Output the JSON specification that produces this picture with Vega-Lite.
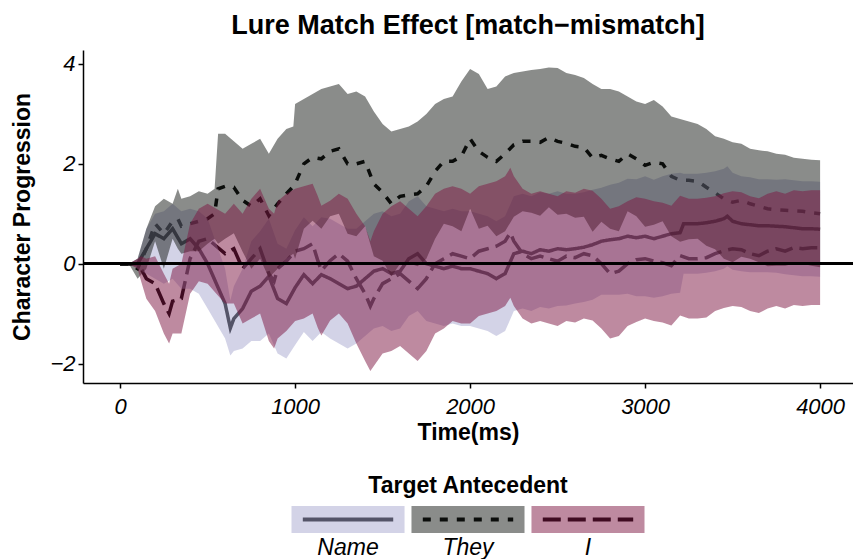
{
  "$schema": "https://vega.github.io/schema/vega-lite/v6.json",
  "background": "white",
  "padding": {"left": 11, "top": 12, "right": 0, "bottom": 5},
  "config": {
    "font": "Liberation Sans",
    "view": {"stroke": null},
    "axis": {
      "grid": false,
      "domainColor": "black",
      "domainWidth": 1.5,
      "tickColor": "black",
      "tickWidth": 1.5,
      "tickSize": 5,
      "labelColor": "black",
      "labelFontSize": 22,
      "labelFontStyle": "italic",
      "titleColor": "black",
      "titleFontSize": 23,
      "titleFontWeight": "bold"
    }
  },
  "bounds": "flush",
  "center": true,
  "spacing": 123,
  "vconcat": [
    {
      "width": 770,
      "height": 333,
      "title": {"text": "Lure Match Effect [match−mismatch]", "fontSize": 27, "fontWeight": "bold", "anchor": "middle", "offset": 10, "color": "black"},
      "data": {"name": "d"},
      "layer": [
        {
          "mark": {"type": "line", "color": "black", "strokeWidth": 3.5, "strokeCap": "butt"},
          "encoding": {
            "x": {"field": "time", "type": "quantitative", "scale": {"domain": [-212, 4188], "nice": false, "zero": false},
                  "axis": {"title": "Time(ms)", "values": [0, 1000, 2000, 3000, 4000], "format": "d", "labelPadding": 8, "titlePadding": 4, "labelFlush": false}},
            "y": {"field": "mean", "type": "quantitative", "scale": {"domain": [-2.39, 4.28], "nice": false, "zero": false},
                  "axis": {"title": "Character Progression", "values": [-2, 0, 2, 4], "format": "d", "labelPadding": 3, "titlePadding": 15, "labelFlush": false}},
            "strokeDash": {"field": "series", "type": "nominal", "scale": {"domain": ["Name", "They", "I"], "range": [[1, 0], [8, 9], [18, 7]]}, "legend": null},
            "detail": {"field": "series", "type": "nominal"}
          }
        },
        {
          "transform": [{"filter": "datum.series === 'Name'"}],
          "mark": {"type": "area", "opacity": 0.5},
          "encoding": {
            "x": {"field": "time", "type": "quantitative"},
            "y": {"field": "lower", "type": "quantitative"},
            "y2": {"field": "upper"},
            "fill": {"field": "series", "type": "nominal", "scale": {"domain": ["Name", "They", "I"], "range": ["#a8a8d0", "#161a15", "#7d1541"]}, "legend": null}
          }
        },
        {
          "transform": [{"filter": "datum.series === 'They'"}],
          "mark": {"type": "area", "opacity": 0.5},
          "encoding": {
            "x": {"field": "time", "type": "quantitative"},
            "y": {"field": "lower", "type": "quantitative"},
            "y2": {"field": "upper"},
            "fill": {"field": "series", "type": "nominal", "legend": null}
          }
        },
        {
          "transform": [{"filter": "datum.series === 'I'"}],
          "mark": {"type": "area", "opacity": 0.5},
          "encoding": {
            "x": {"field": "time", "type": "quantitative"},
            "y": {"field": "lower", "type": "quantitative"},
            "y2": {"field": "upper"},
            "fill": {"field": "series", "type": "nominal", "legend": null}
          }
        },
        {
          "mark": {"type": "rule", "color": "black", "strokeWidth": 2},
          "encoding": {"y": {"datum": 0}}
        }
      ]
    },
    {
      "width": 353,
      "height": 27,
      "title": {"text": "Target Antecedent", "fontSize": 23, "fontWeight": "bold", "anchor": "middle", "offset": 8, "color": "black"},
      "data": {"values": [{"series": "Name"}, {"series": "They"}, {"series": "I"}]},
      "layer": [
        {
          "mark": {"type": "rule", "color": "black", "strokeWidth": 4, "strokeCap": "butt"},
          "encoding": {
            "x": {"field": "series", "type": "nominal", "bandPosition": 0.1,
                  "scale": {"type": "band", "domain": ["Name", "They", "I"], "paddingInner": 0.058, "paddingOuter": 0},
                  "axis": {"title": null, "domain": false, "ticks": false, "labelPadding": 3, "labelFontSize": 23, "labelAngle": 0}},
            "x2": {"field": "series", "bandPosition": 0.9},
            "y": {"datum": 0.5, "type": "quantitative", "scale": {"domain": [0, 1]}, "axis": null},
            "strokeDash": {"field": "series", "type": "nominal", "scale": {"domain": ["Name", "They", "I"], "range": [[1, 0], [8, 9], [18, 7]]}, "legend": null}
          }
        },
        {
          "mark": {"type": "rect", "opacity": 0.5},
          "encoding": {
            "x": {"field": "series", "type": "nominal"},
            "y": {"datum": 0},
            "y2": {"datum": 1},
            "fill": {"field": "series", "type": "nominal", "scale": {"domain": ["Name", "They", "I"], "range": ["#a8a8d0", "#161a15", "#7d1541"]}, "legend": null}
          }
        }
      ]
    }
  ],
  "datasets": {
    "d": [
      {"series":"They","time":0,"mean":0,"lower":0,"upper":0},
      {"series":"They","time":50,"mean":0,"lower":0,"upper":0},
      {"series":"They","time":100,"mean":-0.1,"lower":-0.3,"upper":0.1},
      {"series":"They","time":150,"mean":0.3,"lower":-0.1,"upper":0.7},
      {"series":"They","time":200,"mean":0.8,"lower":0.45,"upper":1.15},
      {"series":"They","time":250,"mean":0.6,"lower":-0.1,"upper":1.3},
      {"series":"They","time":300,"mean":0.85,"lower":0.5,"upper":1.2},
      {"series":"They","time":330,"mean":0.9,"lower":0.3,"upper":1.5},
      {"series":"They","time":350,"mean":0.75,"lower":0.2,"upper":1.3},
      {"series":"They","time":400,"mean":0.8,"lower":0.25,"upper":1.35},
      {"series":"They","time":450,"mean":0.85,"lower":0.25,"upper":1.45},
      {"series":"They","time":500,"mean":0.9,"lower":0.4,"upper":1.4},
      {"series":"They","time":540,"mean":1.0,"lower":0.5,"upper":1.5},
      {"series":"They","time":560,"mean":1.5,"lower":0.4,"upper":2.6},
      {"series":"They","time":600,"mean":1.55,"lower":0.5,"upper":2.6},
      {"series":"They","time":650,"mean":1.53,"lower":0.61,"upper":2.45},
      {"series":"They","time":700,"mean":1.27,"lower":0.24,"upper":2.3},
      {"series":"They","time":750,"mean":1.15,"lower":-0.1,"upper":2.4},
      {"series":"They","time":800,"mean":1.3,"lower":0.1,"upper":2.5},
      {"series":"They","time":850,"mean":0.96,"lower":-0.28,"upper":2.2},
      {"series":"They","time":900,"mean":1.2,"lower":-0.1,"upper":2.5},
      {"series":"They","time":950,"mean":1.4,"lower":0.1,"upper":2.7},
      {"series":"They","time":990,"mean":1.55,"lower":0.2,"upper":2.75},
      {"series":"They","time":1000,"mean":1.6,"lower":0.1,"upper":3.2},
      {"series":"They","time":1050,"mean":2.0,"lower":0.7,"upper":3.3},
      {"series":"They","time":1100,"mean":2.13,"lower":0.86,"upper":3.4},
      {"series":"They","time":1150,"mean":2.1,"lower":0.7,"upper":3.5},
      {"series":"They","time":1200,"mean":2.25,"lower":0.95,"upper":3.55},
      {"series":"They","time":1250,"mean":2.3,"lower":1.0,"upper":3.6},
      {"series":"They","time":1300,"mean":2.0,"lower":0.6,"upper":3.4},
      {"series":"They","time":1350,"mean":2.0,"lower":0.55,"upper":3.45},
      {"series":"They","time":1400,"mean":2.05,"lower":0.75,"upper":3.35},
      {"series":"They","time":1450,"mean":1.6,"lower":0.15,"upper":3.05},
      {"series":"They","time":1500,"mean":1.43,"lower":0.06,"upper":2.8},
      {"series":"They","time":1550,"mean":1.2,"lower":-0.25,"upper":2.65},
      {"series":"They","time":1600,"mean":1.35,"lower":0.0,"upper":2.7},
      {"series":"They","time":1650,"mean":1.38,"lower":0.01,"upper":2.75},
      {"series":"They","time":1700,"mean":1.4,"lower":-0.05,"upper":2.85},
      {"series":"They","time":1750,"mean":1.55,"lower":0.1,"upper":3.0},
      {"series":"They","time":1800,"mean":1.85,"lower":0.5,"upper":3.2},
      {"series":"They","time":1850,"mean":2.05,"lower":0.8,"upper":3.3},
      {"series":"They","time":1900,"mean":2.05,"lower":0.75,"upper":3.35},
      {"series":"They","time":1950,"mean":2.15,"lower":0.65,"upper":3.65},
      {"series":"They","time":2000,"mean":2.5,"lower":1.1,"upper":3.9},
      {"series":"They","time":2050,"mean":2.25,"lower":0.7,"upper":3.8},
      {"series":"They","time":2100,"mean":2.13,"lower":0.76,"upper":3.5},
      {"series":"They","time":2150,"mean":2.05,"lower":0.55,"upper":3.55},
      {"series":"They","time":2200,"mean":2.2,"lower":0.65,"upper":3.75},
      {"series":"They","time":2250,"mean":2.38,"lower":0.94,"upper":3.82},
      {"series":"They","time":2300,"mean":2.45,"lower":1.05,"upper":3.85},
      {"series":"They","time":2350,"mean":2.45,"lower":1.02,"upper":3.88},
      {"series":"They","time":2400,"mean":2.43,"lower":0.96,"upper":3.9},
      {"series":"They","time":2450,"mean":2.53,"lower":1.13,"upper":3.93},
      {"series":"They","time":2500,"mean":2.45,"lower":0.98,"upper":3.92},
      {"series":"They","time":2550,"mean":2.41,"lower":1.0,"upper":3.82},
      {"series":"They","time":2600,"mean":2.35,"lower":0.92,"upper":3.78},
      {"series":"They","time":2650,"mean":2.33,"lower":0.94,"upper":3.72},
      {"series":"They","time":2700,"mean":2.12,"lower":0.64,"upper":3.6},
      {"series":"They","time":2750,"mean":2.17,"lower":0.84,"upper":3.5},
      {"series":"They","time":2800,"mean":2.1,"lower":0.7,"upper":3.5},
      {"series":"They","time":2850,"mean":2.05,"lower":0.65,"upper":3.45},
      {"series":"They","time":2900,"mean":2.2,"lower":1.05,"upper":3.35},
      {"series":"They","time":2950,"mean":2.1,"lower":0.95,"upper":3.25},
      {"series":"They","time":3000,"mean":1.97,"lower":0.74,"upper":3.2},
      {"series":"They","time":3050,"mean":2.03,"lower":0.78,"upper":3.28},
      {"series":"They","time":3100,"mean":2.0,"lower":0.85,"upper":3.15},
      {"series":"They","time":3150,"mean":1.75,"lower":0.55,"upper":2.95},
      {"series":"They","time":3200,"mean":1.67,"lower":0.44,"upper":2.9},
      {"series":"They","time":3250,"mean":1.67,"lower":0.49,"upper":2.85},
      {"series":"They","time":3300,"mean":1.65,"lower":0.5,"upper":2.8},
      {"series":"They","time":3350,"mean":1.53,"lower":0.36,"upper":2.7},
      {"series":"They","time":3400,"mean":1.42,"lower":0.29,"upper":2.55},
      {"series":"They","time":3450,"mean":1.3,"lower":0.1,"upper":2.5},
      {"series":"They","time":3500,"mean":1.23,"lower":0.03,"upper":2.43},
      {"series":"They","time":3550,"mean":1.27,"lower":0.14,"upper":2.4},
      {"series":"They","time":3600,"mean":1.2,"lower":0.1,"upper":2.3},
      {"series":"They","time":3650,"mean":1.15,"lower":0.03,"upper":2.27},
      {"series":"They","time":3700,"mean":1.1,"lower":-0.05,"upper":2.25},
      {"series":"They","time":3750,"mean":1.08,"lower":-0.04,"upper":2.2},
      {"series":"They","time":3800,"mean":1.07,"lower":-0.04,"upper":2.18},
      {"series":"They","time":3850,"mean":1.06,"lower":0.0,"upper":2.12},
      {"series":"They","time":3900,"mean":1.05,"lower":0.0,"upper":2.1},
      {"series":"They","time":3950,"mean":1.02,"lower":-0.04,"upper":2.08},
      {"series":"They","time":4000,"mean":1.0,"lower":-0.07,"upper":2.07},

      {"series":"Name","time":0,"mean":0,"lower":0,"upper":0},
      {"series":"Name","time":50,"mean":0,"lower":0,"upper":0},
      {"series":"Name","time":100,"mean":0,"lower":-0.1,"upper":0.1},
      {"series":"Name","time":150,"mean":0.3,"lower":-0.2,"upper":0.7},
      {"series":"Name","time":200,"mean":0.6,"lower":-0.3,"upper":1.0},
      {"series":"Name","time":250,"mean":0.5,"lower":-0.4,"upper":1.05},
      {"series":"Name","time":300,"mean":0.7,"lower":-0.3,"upper":1.2},
      {"series":"Name","time":350,"mean":0.4,"lower":-0.5,"upper":1.05},
      {"series":"Name","time":400,"mean":0.5,"lower":-0.5,"upper":1.1},
      {"series":"Name","time":450,"mean":0.3,"lower":-0.6,"upper":1.05},
      {"series":"Name","time":500,"mean":0.0,"lower":-0.9,"upper":0.9},
      {"series":"Name","time":550,"mean":-0.4,"lower":-1.2,"upper":0.4},
      {"series":"Name","time":600,"mean":-0.8,"lower":-1.5,"upper":-0.1},
      {"series":"Name","time":630,"mean":-1.29,"lower":-1.84,"upper":-0.74},
      {"series":"Name","time":650,"mean":-1.1,"lower":-1.75,"upper":-0.45},
      {"series":"Name","time":700,"mean":-0.9,"lower":-1.7,"upper":-0.1},
      {"series":"Name","time":750,"mean":-0.55,"lower":-1.55,"upper":0.45},
      {"series":"Name","time":800,"mean":-0.45,"lower":-1.55,"upper":0.65},
      {"series":"Name","time":850,"mean":-0.25,"lower":-1.4,"upper":0.9},
      {"series":"Name","time":900,"mean":-0.7,"lower":-1.8,"upper":0.4},
      {"series":"Name","time":950,"mean":-0.8,"lower":-1.9,"upper":0.3},
      {"series":"Name","time":1000,"mean":-0.48,"lower":-1.63,"upper":0.67},
      {"series":"Name","time":1050,"mean":-0.22,"lower":-1.37,"upper":0.93},
      {"series":"Name","time":1100,"mean":-0.4,"lower":-1.55,"upper":0.75},
      {"series":"Name","time":1150,"mean":-0.22,"lower":-1.37,"upper":0.93},
      {"series":"Name","time":1200,"mean":-0.3,"lower":-1.5,"upper":0.9},
      {"series":"Name","time":1250,"mean":-0.4,"lower":-1.6,"upper":0.8},
      {"series":"Name","time":1300,"mean":-0.5,"lower":-1.7,"upper":0.7},
      {"series":"Name","time":1350,"mean":-0.45,"lower":-1.6,"upper":0.7},
      {"series":"Name","time":1400,"mean":-0.3,"lower":-1.45,"upper":0.85},
      {"series":"Name","time":1450,"mean":-0.15,"lower":-1.3,"upper":1.0},
      {"series":"Name","time":1500,"mean":-0.1,"lower":-1.25,"upper":1.05},
      {"series":"Name","time":1550,"mean":-0.2,"lower":-1.35,"upper":0.95},
      {"series":"Name","time":1600,"mean":-0.15,"lower":-1.3,"upper":1.0},
      {"series":"Name","time":1650,"mean":0.1,"lower":-1.05,"upper":1.25},
      {"series":"Name","time":1700,"mean":0.2,"lower":-0.95,"upper":1.35},
      {"series":"Name","time":1750,"mean":0.0,"lower":-1.15,"upper":1.15},
      {"series":"Name","time":1800,"mean":-0.05,"lower":-1.2,"upper":1.1},
      {"series":"Name","time":1850,"mean":-0.1,"lower":-1.25,"upper":1.05},
      {"series":"Name","time":1900,"mean":-0.05,"lower":-1.2,"upper":1.1},
      {"series":"Name","time":1950,"mean":-0.1,"lower":-1.25,"upper":1.05},
      {"series":"Name","time":2000,"mean":-0.1,"lower":-1.25,"upper":1.05},
      {"series":"Name","time":2050,"mean":-0.15,"lower":-1.3,"upper":1.0},
      {"series":"Name","time":2100,"mean":-0.2,"lower":-1.35,"upper":0.95},
      {"series":"Name","time":2150,"mean":-0.3,"lower":-1.45,"upper":0.85},
      {"series":"Name","time":2200,"mean":-0.2,"lower":-1.35,"upper":0.95},
      {"series":"Name","time":2250,"mean":0.2,"lower":-0.95,"upper":1.35},
      {"series":"Name","time":2300,"mean":0.25,"lower":-0.9,"upper":1.4},
      {"series":"Name","time":2350,"mean":0.2,"lower":-0.95,"upper":1.35},
      {"series":"Name","time":2400,"mean":0.28,"lower":-0.87,"upper":1.43},
      {"series":"Name","time":2450,"mean":0.25,"lower":-0.9,"upper":1.4},
      {"series":"Name","time":2500,"mean":0.3,"lower":-0.85,"upper":1.45},
      {"series":"Name","time":2550,"mean":0.28,"lower":-0.84,"upper":1.4},
      {"series":"Name","time":2600,"mean":0.3,"lower":-0.8,"upper":1.4},
      {"series":"Name","time":2650,"mean":0.33,"lower":-0.77,"upper":1.43},
      {"series":"Name","time":2700,"mean":0.38,"lower":-0.72,"upper":1.48},
      {"series":"Name","time":2750,"mean":0.45,"lower":-0.62,"upper":1.52},
      {"series":"Name","time":2800,"mean":0.48,"lower":-0.62,"upper":1.58},
      {"series":"Name","time":2850,"mean":0.5,"lower":-0.62,"upper":1.62},
      {"series":"Name","time":2900,"mean":0.55,"lower":-0.6,"upper":1.7},
      {"series":"Name","time":2950,"mean":0.52,"lower":-0.65,"upper":1.69},
      {"series":"Name","time":3000,"mean":0.55,"lower":-0.65,"upper":1.75},
      {"series":"Name","time":3050,"mean":0.5,"lower":-0.68,"upper":1.68},
      {"series":"Name","time":3100,"mean":0.55,"lower":-0.65,"upper":1.75},
      {"series":"Name","time":3150,"mean":0.6,"lower":-0.6,"upper":1.8},
      {"series":"Name","time":3200,"mean":0.62,"lower":-0.58,"upper":1.82},
      {"series":"Name","time":3220,"mean":0.8,"lower":-0.2,"upper":1.8},
      {"series":"Name","time":3250,"mean":0.8,"lower":-0.2,"upper":1.8},
      {"series":"Name","time":3300,"mean":0.8,"lower":-0.2,"upper":1.8},
      {"series":"Name","time":3350,"mean":0.82,"lower":-0.18,"upper":1.82},
      {"series":"Name","time":3400,"mean":0.85,"lower":-0.15,"upper":1.85},
      {"series":"Name","time":3450,"mean":0.9,"lower":-0.1,"upper":1.9},
      {"series":"Name","time":3470,"mean":0.95,"lower":-0.05,"upper":1.95},
      {"series":"Name","time":3500,"mean":0.85,"lower":-0.12,"upper":1.82},
      {"series":"Name","time":3550,"mean":0.8,"lower":-0.15,"upper":1.75},
      {"series":"Name","time":3600,"mean":0.78,"lower":-0.17,"upper":1.73},
      {"series":"Name","time":3650,"mean":0.76,"lower":-0.17,"upper":1.69},
      {"series":"Name","time":3700,"mean":0.76,"lower":-0.17,"upper":1.69},
      {"series":"Name","time":3750,"mean":0.75,"lower":-0.18,"upper":1.68},
      {"series":"Name","time":3800,"mean":0.74,"lower":-0.21,"upper":1.69},
      {"series":"Name","time":3850,"mean":0.72,"lower":-0.23,"upper":1.67},
      {"series":"Name","time":3900,"mean":0.7,"lower":-0.25,"upper":1.65},
      {"series":"Name","time":3950,"mean":0.7,"lower":-0.25,"upper":1.65},
      {"series":"Name","time":4000,"mean":0.69,"lower":-0.26,"upper":1.64},

      {"series":"I","time":0,"mean":0,"lower":0,"upper":0},
      {"series":"I","time":50,"mean":0,"lower":0,"upper":0},
      {"series":"I","time":100,"mean":0,"lower":-0.1,"upper":0.1},
      {"series":"I","time":120,"mean":-0.1,"lower":-0.35,"upper":0.15},
      {"series":"I","time":150,"mean":-0.3,"lower":-0.7,"upper":0.1},
      {"series":"I","time":200,"mean":-0.4,"lower":-0.95,"upper":0.15},
      {"series":"I","time":250,"mean":-0.8,"lower":-1.4,"upper":-0.2},
      {"series":"I","time":280,"mean":-1.0,"lower":-1.6,"upper":-0.4},
      {"series":"I","time":300,"mean":-0.75,"lower":-1.4,"upper":-0.1},
      {"series":"I","time":350,"mean":-0.7,"lower":-1.4,"upper":0.0},
      {"series":"I","time":400,"mean":0.1,"lower":-0.6,"upper":0.8},
      {"series":"I","time":450,"mean":0.45,"lower":-0.35,"upper":1.1},
      {"series":"I","time":500,"mean":0.5,"lower":-0.4,"upper":1.2},
      {"series":"I","time":550,"mean":0.35,"lower":-0.6,"upper":1.1},
      {"series":"I","time":600,"mean":0.2,"lower":-0.8,"upper":1.0},
      {"series":"I","time":650,"mean":0.3,"lower":-0.8,"upper":1.2},
      {"series":"I","time":700,"mean":-0.1,"lower":-1.2,"upper":1.0},
      {"series":"I","time":750,"mean":0.1,"lower":-1.1,"upper":1.3},
      {"series":"I","time":800,"mean":0.3,"lower":-1.0,"upper":1.5},
      {"series":"I","time":850,"mean":-0.2,"lower":-1.55,"upper":1.1},
      {"series":"I","time":880,"mean":-0.35,"lower":-1.7,"upper":1.0},
      {"series":"I","time":900,"mean":-0.1,"lower":-1.5,"upper":1.25},
      {"series":"I","time":950,"mean":0.05,"lower":-1.35,"upper":1.4},
      {"series":"I","time":1000,"mean":0.25,"lower":-1.15,"upper":1.5},
      {"series":"I","time":1050,"mean":0.3,"lower":-1.1,"upper":1.55},
      {"series":"I","time":1100,"mean":0.4,"lower":-1.0,"upper":1.6},
      {"series":"I","time":1130,"mean":0.06,"lower":-1.29,"upper":1.35},
      {"series":"I","time":1150,"mean":-0.14,"lower":-1.44,"upper":1.16},
      {"series":"I","time":1200,"mean":0.06,"lower":-1.14,"upper":1.26},
      {"series":"I","time":1250,"mean":0.2,"lower":-1.0,"upper":1.4},
      {"series":"I","time":1300,"mean":0.05,"lower":-1.2,"upper":1.3},
      {"series":"I","time":1350,"mean":-0.3,"lower":-1.6,"upper":1.0},
      {"series":"I","time":1400,"mean":-0.6,"lower":-1.95,"upper":0.75},
      {"series":"I","time":1430,"mean":-0.85,"lower":-2.15,"upper":0.45},
      {"series":"I","time":1450,"mean":-0.7,"lower":-2.05,"upper":0.65},
      {"series":"I","time":1500,"mean":-0.4,"lower":-1.8,"upper":1.0},
      {"series":"I","time":1550,"mean":-0.3,"lower":-1.75,"upper":1.15},
      {"series":"I","time":1600,"mean":-0.2,"lower":-1.65,"upper":1.25},
      {"series":"I","time":1650,"mean":-0.35,"lower":-1.8,"upper":1.1},
      {"series":"I","time":1700,"mean":-0.5,"lower":-1.95,"upper":0.95},
      {"series":"I","time":1750,"mean":-0.3,"lower":-1.75,"upper":1.15},
      {"series":"I","time":1800,"mean":0.0,"lower":-1.4,"upper":1.4},
      {"series":"I","time":1850,"mean":0.1,"lower":-1.3,"upper":1.5},
      {"series":"I","time":1900,"mean":0.2,"lower":-1.15,"upper":1.55},
      {"series":"I","time":1950,"mean":0.15,"lower":-1.2,"upper":1.5},
      {"series":"I","time":2000,"mean":0.1,"lower":-1.2,"upper":1.4},
      {"series":"I","time":2050,"mean":0.25,"lower":-1.05,"upper":1.55},
      {"series":"I","time":2100,"mean":0.3,"lower":-1.0,"upper":1.6},
      {"series":"I","time":2150,"mean":0.35,"lower":-0.95,"upper":1.65},
      {"series":"I","time":2200,"mean":0.45,"lower":-0.85,"upper":1.75},
      {"series":"I","time":2230,"mean":0.62,"lower":-0.68,"upper":1.92},
      {"series":"I","time":2250,"mean":0.45,"lower":-0.85,"upper":1.75},
      {"series":"I","time":2300,"mean":0.2,"lower":-1.1,"upper":1.5},
      {"series":"I","time":2350,"mean":0.1,"lower":-1.2,"upper":1.4},
      {"series":"I","time":2400,"mean":0.15,"lower":-1.15,"upper":1.45},
      {"series":"I","time":2450,"mean":0.1,"lower":-1.2,"upper":1.4},
      {"series":"I","time":2500,"mean":0.05,"lower":-1.25,"upper":1.35},
      {"series":"I","time":2550,"mean":0.15,"lower":-1.15,"upper":1.45},
      {"series":"I","time":2600,"mean":0.12,"lower":-1.18,"upper":1.42},
      {"series":"I","time":2650,"mean":0.2,"lower":-1.1,"upper":1.5},
      {"series":"I","time":2700,"mean":0.16,"lower":-1.14,"upper":1.46},
      {"series":"I","time":2750,"mean":0.0,"lower":-1.3,"upper":1.3},
      {"series":"I","time":2800,"mean":-0.2,"lower":-1.5,"upper":1.1},
      {"series":"I","time":2850,"mean":-0.15,"lower":-1.45,"upper":1.15},
      {"series":"I","time":2900,"mean":0.0,"lower":-1.25,"upper":1.25},
      {"series":"I","time":2950,"mean":0.08,"lower":-1.17,"upper":1.33},
      {"series":"I","time":3000,"mean":0.1,"lower":-1.1,"upper":1.3},
      {"series":"I","time":3050,"mean":0.05,"lower":-1.15,"upper":1.25},
      {"series":"I","time":3100,"mean":0.02,"lower":-1.18,"upper":1.22},
      {"series":"I","time":3150,"mean":-0.04,"lower":-1.24,"upper":1.16},
      {"series":"I","time":3200,"mean":0.16,"lower":-1.04,"upper":1.36},
      {"series":"I","time":3250,"mean":0.1,"lower":-1.1,"upper":1.3},
      {"series":"I","time":3300,"mean":0.1,"lower":-1.1,"upper":1.3},
      {"series":"I","time":3350,"mean":0.12,"lower":-1.08,"upper":1.32},
      {"series":"I","time":3400,"mean":0.2,"lower":-0.95,"upper":1.35},
      {"series":"I","time":3450,"mean":0.26,"lower":-0.89,"upper":1.41},
      {"series":"I","time":3500,"mean":0.3,"lower":-0.85,"upper":1.45},
      {"series":"I","time":3550,"mean":0.28,"lower":-0.87,"upper":1.43},
      {"series":"I","time":3600,"mean":0.2,"lower":-0.95,"upper":1.35},
      {"series":"I","time":3650,"mean":0.16,"lower":-0.99,"upper":1.31},
      {"series":"I","time":3700,"mean":0.25,"lower":-0.9,"upper":1.4},
      {"series":"I","time":3750,"mean":0.3,"lower":-0.85,"upper":1.45},
      {"series":"I","time":3800,"mean":0.25,"lower":-0.9,"upper":1.4},
      {"series":"I","time":3850,"mean":0.32,"lower":-0.83,"upper":1.47},
      {"series":"I","time":3900,"mean":0.3,"lower":-0.85,"upper":1.45},
      {"series":"I","time":3950,"mean":0.32,"lower":-0.83,"upper":1.47},
      {"series":"I","time":4000,"mean":0.32,"lower":-0.83,"upper":1.47}
    ]
  }
}
